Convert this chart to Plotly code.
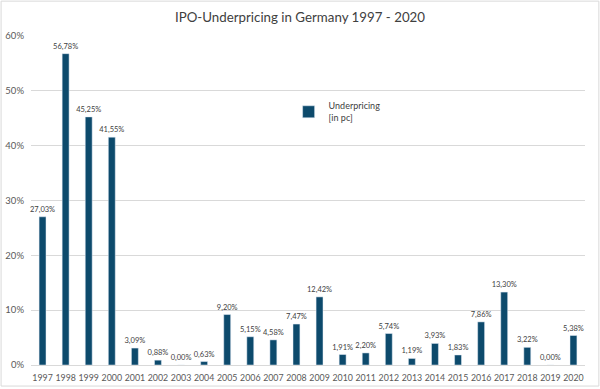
import plotly.graph_objects as go

years = [str(y) for y in range(1997, 2021)]
underpricing = [27.03, 56.78, 45.25, 41.55, 3.09, 0.88, 0.00, 0.63, 9.20, 5.15, 4.58, 7.47,
                12.42, 1.91, 2.20, 5.74, 1.19, 3.93, 1.83, 7.86, 13.30, 3.22, 0.00, 5.38]
y_ticks = [0, 10, 20, 30, 40, 50, 60]
y_tick_labels = [f"{t}%" for t in y_ticks]
labels = [f"{v:.2f}".replace(".", ",") + "%" for v in underpricing]

fig = go.Figure()
fig.add_trace(go.Bar(
    x=years, y=underpricing, name="Underpricing<br>[in pc]",
    marker_color="#0d4a6c", text=labels, textposition="outside",
    constraintext="none",
    textfont=dict(size=7.5, color="#404040"), cliponaxis=False,
))
fig.update_layout(
    width=600, height=389,
    margin=dict(l=31, r=15, t=36, b=24),
    paper_bgcolor="white", plot_bgcolor="white",
    font=dict(family="Lato, Open Sans, sans-serif", color="#595959"),
    title=dict(text="IPO-Underpricing in Germany 1997 - 2020", x=0.5, xanchor="center",
               y=0.955, yanchor="middle", font=dict(size=13.3, color="#404040")),
    bargap=0.7,
    showlegend=True,
    legend=dict(x=0.465, y=0.825, xanchor="left", yanchor="top", bgcolor="rgba(0,0,0,0)",
                font=dict(size=9, color="#404040"), itemwidth=30),
    yaxis=dict(range=[0, 60], tickvals=y_ticks, ticktext=y_tick_labels, showgrid=True,
               gridcolor="#d9d9d9", gridwidth=1, zeroline=False, showline=False,
               tickfont=dict(size=9.5), ticks="", ticklen=0, ticklabelstandoff=6,
               automargin=False),
    xaxis=dict(type="category", showline=True, linecolor="#d9d9d9", ticks="",
               tickangle=0, tickfont=dict(size=8.8), ticklabelstandoff=4, automargin=False),
    shapes=[dict(type="rect", xref="paper", yref="paper", x0=-0.054, x1=1.025, y0=-0.064, y1=1.106,
                 line=dict(color="#d9d9d9", width=1), layer="below")],
)
fig.write_html("out.html", config={"displayModeBar": False},
               post_script="document.body.style.margin='0';")
